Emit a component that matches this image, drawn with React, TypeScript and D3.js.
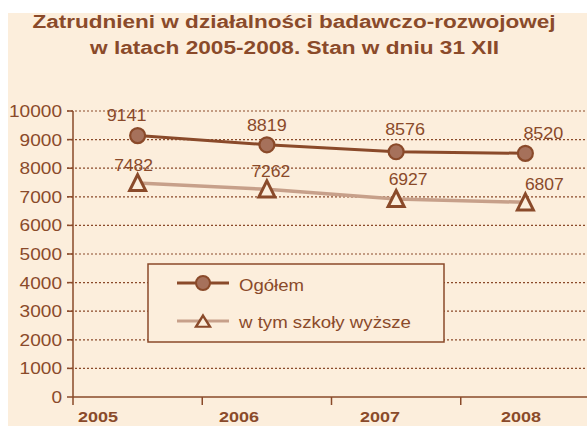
import React from "react";
import * as d3 from "d3";

const years = ["2005", "2006", "2007", "2008"];
const totalValues = [9141, 8819, 8576, 8520];
const universityValues = [7482, 7262, 6927, 6807];
const yTicks = [0, 1000, 2000, 3000, 4000, 5000, 6000, 7000, 8000, 9000, 10000];
const seriesNames = ["Ogółem", "w tym szkoły wyższe"];
const titleLines = [
  "Zatrudnieni w działalności badawczo-rozwojowej",
  "w latach 2005-2008. Stan w dniu 31 XII",
];

// layout (label nudges relative to points)
const totalLabelNudge: [number, number][] = [[-11, -15], [0, -14], [9, -17], [18, -14]];
const univLabelNudge: [number, number][] = [[-4, -12], [4, -12], [12, -14], [19, -12]];

const W = 587;
const H = 426;
const BG = "#FCEEDC";
const BROWN = "#8A4A2A";
const CIRCLE_FILL = "#A6715B";
const LIGHT = "#C7A08A";
const FONT = "'Liberation Sans', Arial, sans-serif";

export default function App() {
  const x = d3.scaleBand<string>().domain(years).range([73, 590]);
  const xLabel = d3.scalePoint<string>().domain(years).range([98, 521]);
  const y = d3.scaleLinear().domain([0, 10000]).range([397, 111]);
  const cx = (d: string) => (x(d) as number) + x.bandwidth() / 2;

  const line = d3
    .line<number>()
    .x((_, i) => cx(years[i]))
    .y((v) => y(v));

  const tri = (s: number) => `M0,${-s * 1.05} L${s},${s * 0.95} L${-s},${s * 0.95} Z`;

  return (
    <svg
      width={W}
      height={H}
      style={{ position: "fixed", left: 0, top: 0, display: "block" }}
      fontFamily={FONT}
    >
      <rect x={0} y={0} width={W} height={H} fill="#ffffff" />
      <rect x={8} y={13} width={W - 8} height={H - 13} fill={BG} />

      {/* title */}
      <text x={294} y={28} textAnchor="middle" fontWeight="bold" fontSize={18} fill={BROWN}
        textLength={523} lengthAdjust="spacingAndGlyphs">{titleLines[0]}</text>
      <text x={294.5} y={54} textAnchor="middle" fontWeight="bold" fontSize={18} fill={BROWN}
        textLength={409} lengthAdjust="spacingAndGlyphs">{titleLines[1]}</text>

      {/* gridlines */}
      {yTicks.filter((t) => t > 0).map((t) => (
        <line key={"g" + t} x1={67} x2={W} y1={y(t)} y2={y(t)} stroke={BROWN}
          strokeWidth={1.2} strokeDasharray="2,2" />
      ))}

      {/* y axis */}
      <line x1={73} x2={73} y1={y(10000)} y2={405} stroke={BROWN} strokeWidth={1.5} />
      {yTicks.map((t) => (
        <g key={"yt" + t}>
          <line x1={67} x2={73} y1={y(t)} y2={y(t)} stroke={BROWN} strokeWidth={1.5} />
          <text x={62} y={y(t) + 6} textAnchor="end" fontSize={16.5} fill={BROWN}
            textLength={String(t).length * 10.6} lengthAdjust="spacingAndGlyphs">{t}</text>
        </g>
      ))}

      {/* x axis */}
      <line x1={73} x2={W} y1={y(0)} y2={y(0)} stroke={BROWN} strokeWidth={1.5} />
      {years.slice(1).map((yr) => (
        <line key={"xt" + yr} x1={x(yr) as number} x2={x(yr) as number} y1={y(0)} y2={405}
          stroke={BROWN} strokeWidth={1.5} />
      ))}
      {years.map((yr) => (
        <text key={"xl" + yr} x={xLabel(yr) as number} y={421.5} textAnchor="middle"
          fontWeight="bold" fontSize={15} fill={BROWN} textLength={40}
          lengthAdjust="spacingAndGlyphs">{yr}</text>
      ))}

      {/* legend */}
      <rect x={148} y={264} width={296} height={78} fill={BG} stroke={BROWN} strokeWidth={1.5} />
      <line x1={177} x2={229} y1={283} y2={283} stroke={BROWN} strokeWidth={3} />
      <circle cx={203} cy={283} r={7} fill={CIRCLE_FILL} stroke={BROWN} strokeWidth={2} />
      <text x={239} y={290.5} fontSize={16} fill={BROWN} textLength={65}
        lengthAdjust="spacingAndGlyphs">{seriesNames[0]}</text>
      <line x1={177} x2={229} y1={321} y2={321} stroke={LIGHT} strokeWidth={3} />
      <path d={tri(7)} transform="translate(203,321.5) scale(1,0.8)" fill={BG} stroke={BROWN} strokeWidth={2.6} />
      <text x={239} y={327.5} fontSize={16} fill={BROWN} textLength={172}
        lengthAdjust="spacingAndGlyphs">{seriesNames[1]}</text>

      {/* series: university */}
      <path d={line(universityValues) ?? ""} fill="none" stroke={LIGHT} strokeWidth={3.5} />
      {universityValues.map((v, i) => (
        <path key={"ut" + i} d={tri(8)} transform={`translate(${cx(years[i])},${y(v)})`}
          fill={BG} stroke={BROWN} strokeWidth={3} strokeLinejoin="miter" />
      ))}
      {universityValues.map((v, i) => (
        <text key={"ul" + i} x={cx(years[i]) + univLabelNudge[i][0]} y={y(v) + univLabelNudge[i][1]}
          textAnchor="middle" fontSize={16.5} fill={BROWN} textLength={39}
          lengthAdjust="spacingAndGlyphs">{v}</text>
      ))}

      {/* series: total */}
      <path d={line(totalValues) ?? ""} fill="none" stroke={BROWN} strokeWidth={3} />
      {totalValues.map((v, i) => (
        <circle key={"tc" + i} cx={cx(years[i])} cy={y(v)} r={7.5} fill={CIRCLE_FILL}
          stroke={BROWN} strokeWidth={2.2} />
      ))}
      {totalValues.map((v, i) => (
        <text key={"tl" + i} x={cx(years[i]) + totalLabelNudge[i][0]} y={y(v) + totalLabelNudge[i][1]}
          textAnchor="middle" fontSize={16.5} fill={BROWN} textLength={40}
          lengthAdjust="spacingAndGlyphs">{v}</text>
      ))}
    </svg>
  );
}
